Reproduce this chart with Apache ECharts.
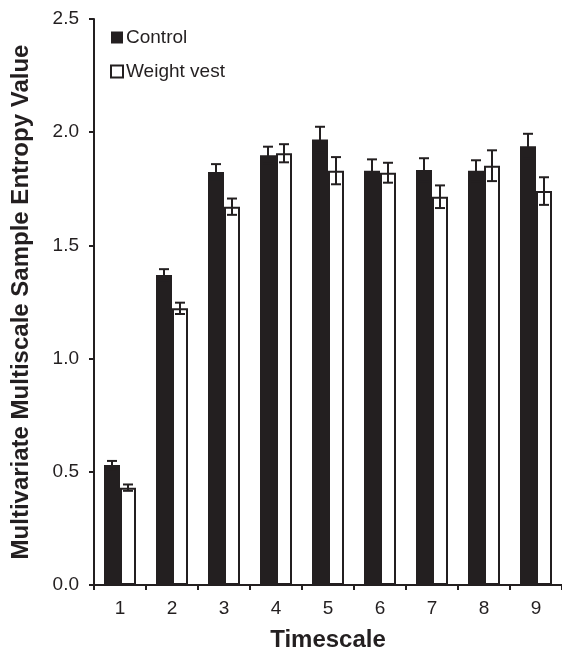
<!DOCTYPE html>
<html>
<head>
<meta charset="utf-8">
<script src="https://cdn.jsdelivr.net/npm/echarts@6/dist/echarts.min.js"></script>
<style>
html,body{margin:0;padding:0;background:#fff;}
#chart{width:562px;height:657px;}
</style>
</head>
<body>
<div id="chart"></div>
<script>
var categories = ['1','2','3','4','5','6','7','8','9'];
var control = [0.530, 1.369, 1.824, 1.898, 1.968, 1.830, 1.833, 1.830, 1.938];
var controlErr = [0.018, 0.026, 0.035, 0.038, 0.056, 0.050, 0.052, 0.046, 0.055];
var vest = [0.430, 1.222, 1.671, 1.907, 1.830, 1.821, 1.715, 1.852, 1.740];
var vestErr = [0.014, 0.025, 0.036, 0.040, 0.060, 0.044, 0.050, 0.068, 0.061];
var yTicks = [0, 0.5, 1.0, 1.5, 2.0, 2.5];

var INK = '#231f20';
var FONT = '"Liberation Sans", Arial, sans-serif';
var BARW = 16;

function errData(vals, errs) {
  return vals.map(function (v, i) { return [i, v, errs[i]]; });
}
function errRender(offset) {
  return function (params, api) {
    var i = api.value(0), v = api.value(1), e = api.value(2);
    var hi = api.coord([i, v + e]);
    var lo = api.coord([i, v - e]);
    var x = hi[0] + offset;
    var cap = 5;
    var st = { stroke: INK, lineWidth: 2 };
    return {
      type: 'group',
      children: [
        { type: 'line', shape: { x1: x, y1: hi[1], x2: x, y2: lo[1] }, style: st },
        { type: 'line', shape: { x1: x - cap, y1: hi[1], x2: x + cap, y2: hi[1] }, style: st },
        { type: 'line', shape: { x1: x - cap, y1: lo[1], x2: x + cap, y2: lo[1] }, style: st }
      ]
    };
  };
}

var chart = echarts.init(document.getElementById('chart'), null, { renderer: 'canvas' });
chart.setOption({
  animation: false,
  backgroundColor: '#fff',
  textStyle: { fontFamily: FONT, color: INK },
  grid: { left: 94, top: 19, width: 471, height: 573, containLabel: false },
  legend: {
    orient: 'vertical',
    left: 110, top: 28,
    padding: 0,
    itemWidth: 12, itemHeight: 12,
    itemGap: 15,
    textStyle: { fontFamily: FONT, fontSize: 19, color: INK, lineHeight: 19, padding: [0,0,0,-2] },
    data: [
      { name: 'Control', icon: 'rect' },
      { name: 'Weight vest', icon: 'rect', itemStyle: { color: '#fff', borderColor: INK, borderWidth: 2 } }
    ]
  },
  xAxis: {
    type: 'category',
    data: categories,
    name: 'Timescale',
    nameLocation: 'middle',
    nameGap: 43,
    nameTextStyle: { fontFamily: FONT, fontSize: 24, fontWeight: 'bold', color: INK },
    axisLine: { show: true, lineStyle: { color: INK, width: 2 } },
    axisTick: { show: true, interval: 0, length: 5, lineStyle: { color: INK, width: 2 } },
    axisLabel: { fontFamily: FONT, fontSize: 19, color: INK, margin: 14 },
    splitLine: { show: false }
  },
  yAxis: {
    type: 'value',
    min: 0, max: 2.5, interval: 0.5,
    name: 'Multivariate Multiscale Sample Entropy Value',
    nameLocation: 'middle',
    nameRotate: 90,
    nameGap: 61,
    nameTextStyle: { fontFamily: FONT, fontSize: 24, fontWeight: 'bold', color: INK },
    axisLine: { show: true, lineStyle: { color: INK, width: 2 } },
    axisTick: { show: true, length: 5, lineStyle: { color: INK, width: 2 } },
    axisLabel: {
      fontFamily: FONT, fontSize: 19, color: INK, margin: 15,
      formatter: function (v) { return v.toFixed(1); }
    },
    splitLine: { show: false }
  },
  series: [
    {
      name: 'Control', type: 'bar', data: control,
      barWidth: BARW, barGap: '0%',
      itemStyle: { color: INK, borderColor: INK, borderWidth: 0 },
      z: 2
    },
    {
      name: 'Weight vest', type: 'bar', data: vest,
      barWidth: BARW, barGap: '0%',
      itemStyle: { color: '#fff', borderColor: INK, borderWidth: 2 },
      z: 2
    },
    {
      name: 'ctrlErr', type: 'custom', data: errData(control, controlErr),
      renderItem: errRender(-BARW / 2), z: 5, silent: true
    },
    {
      name: 'vestErr', type: 'custom', data: errData(vest, vestErr),
      renderItem: errRender(BARW / 2), z: 5, silent: true
    }
  ]
});
</script>
</body>
</html>
